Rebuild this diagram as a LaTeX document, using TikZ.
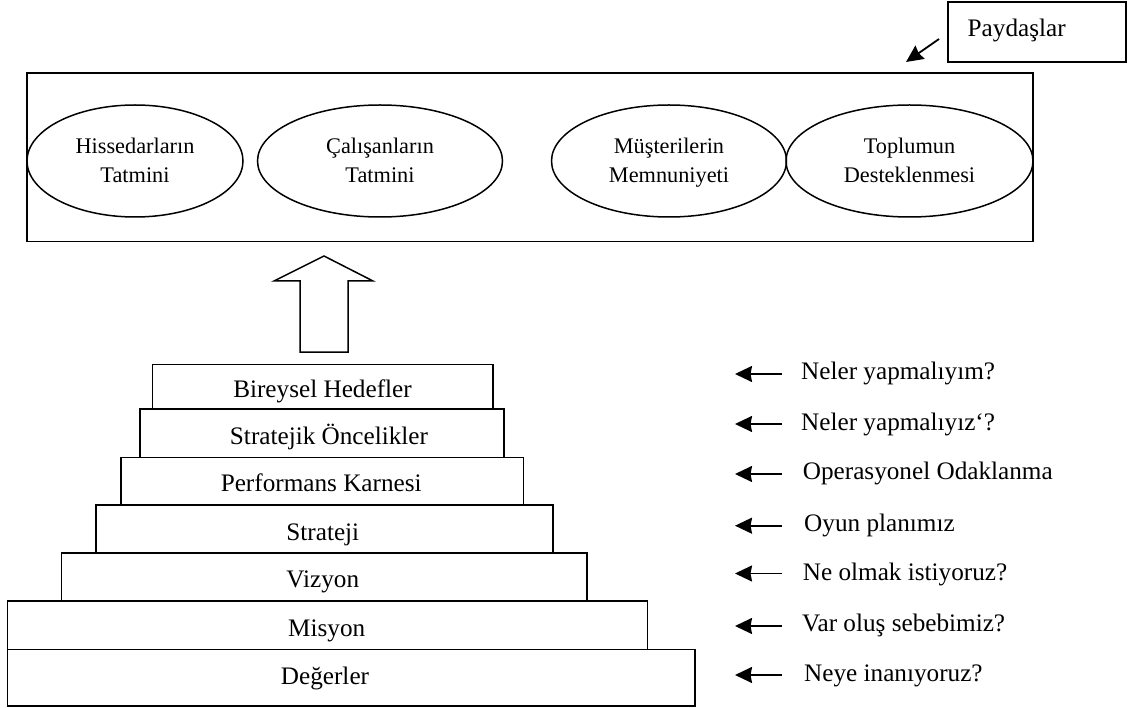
\documentclass[tikz,border=0pt]{standalone}
\usepackage{fontspec}
\setmainfont{Liberation Serif}
\usetikzlibrary{arrows.meta,shapes.geometric}
% struts that give every two-line ellipse label the same height and depth
\newcommand{\tallline}{\rule{0pt}{18.8pt}}
\newcommand{\lowline}{\rule[-4.8pt]{0pt}{0pt}}
\begin{document}
\begin{tikzpicture}[x=1pt,y=-1pt,
  every node/.style={font=\fontsize{25.2}{29.4}\selectfont},
  frame/.style={draw,line width=1.6pt,rectangle,inner sep=0pt},
  oval/.style={draw,line width=1.5pt,ellipse,inner sep=0pt,minimum height=112pt,align=center,
               font=\fontsize{22.3}{29.4}\selectfont},
  stepbox/.style={draw,line width=1.6pt,rectangle,inner sep=0pt},
  steptext/.style={anchor=base,inner sep=0pt},
  qtext/.style={anchor=base west,inner sep=0pt},
  ptr/.style={line width=1.8pt,-{Stealth[length=17pt,width=16pt,inset=1.5pt]}}]
\useasboundingbox (0,0) rectangle (1129,708);

% stakeholder frame and its label
\node[frame,minimum width=1006pt,minimum height=168.4pt] (paydas) at (530,157.5) {};
\node[frame,minimum width=178pt,minimum height=60pt,text width=138.6pt,inner xsep=19.7pt,
      align=left,text height=9pt,text depth=0pt] (plabel) at (1037,32) {Paydaşlar};
\coordinate (pfrom) at (939,39);
\coordinate (pto) at (906,62);
\draw[ptr] (pfrom) -- (pto);

% stakeholder ellipses
\node[oval,minimum width=216pt] (e1) at (135,161) {\tallline Hissedarların\\Tatmini\lowline};
\node[oval,minimum width=245pt] (e2) at (380,161) {\tallline Çalışanların\\Tatmini\lowline};
\node[oval,minimum width=235pt] (e3) at (669,161) {\tallline Müşterilerin\\Memnuniyeti\lowline};
\node[oval,minimum width=247pt] (e4) at (909.5,161) {\tallline Toplumun\\Desteklenmesi\lowline};

% hollow block arrow pointing up
\draw[line width=1.5pt,line join=miter]
  (300,352) -- (300,281) -- (274,281) -- (324,256) -- (373,281) -- (348,281) -- (348,352) -- cycle;

% stacked steps
\node[stepbox,minimum width=340.4pt,minimum height=44.7pt] (b1) at (322.5,386.65) {};
\node[stepbox,minimum width=364.3pt,minimum height=48.3pt] (b2) at (321.85,433.15) {};
\node[stepbox,minimum width=402.6pt,minimum height=47.7pt] (b3) at (322,481.15) {};
\node[stepbox,minimum width=456.7pt,minimum height=47.7pt] (b4) at (324.35,528.85) {};
\node[stepbox,minimum width=525.4pt,minimum height=48pt] (b5) at (324,576.7) {};
\node[stepbox,minimum width=640pt,minimum height=48.6pt] (b6) at (327.3,625) {};
\node[stepbox,minimum width=687.7pt,minimum height=56.7pt] (b7) at (351.15,677.65) {};

\node[steptext] (t1) at (322.5,397.7) {Bireysel Hedefler};
\node[steptext] (t2) at (329,444.3) {Stratejik Öncelikler};
\node[steptext] (t3) at (321.2,491.7) {Performans Karnesi};
\node[steptext] (t4) at (322.8,540) {Strateji};
\node[steptext] (t5) at (322.8,587.7) {Vizyon};
\node[steptext] (t6) at (326.7,636) {Misyon};
\node[steptext] (t7) at (325,684.3) {Değerler};

% questions on the right with their pointers
\node[qtext] (q1) at (801,379) {Neler yapmalıyım?};
\node[qtext] (q2) at (801,430) {Neler yapmalıyız‘?};
\node[qtext] (q3) at (802.7,479.5) {Operasyonel Odaklanma};
\node[qtext] (q4) at (804,531.5) {Oyun planımız};
\node[qtext] (q5) at (802.7,580) {Ne olmak istiyoruz?};
\node[qtext] (q6) at (802,631.5) {Var oluş sebebimiz?};
\node[qtext] (q7) at (804,681) {Neye inanıyoruz?};

\foreach \i/\yy in {1/374,2/424,3/474,4/525.7,5/573.5,6/626,7/675}{
  \coordinate (s\i) at (782,\yy);
  \coordinate (h\i) at (735,\yy);
  \draw[ptr] (s\i) -- (h\i);
}
\end{tikzpicture}
\end{document}
